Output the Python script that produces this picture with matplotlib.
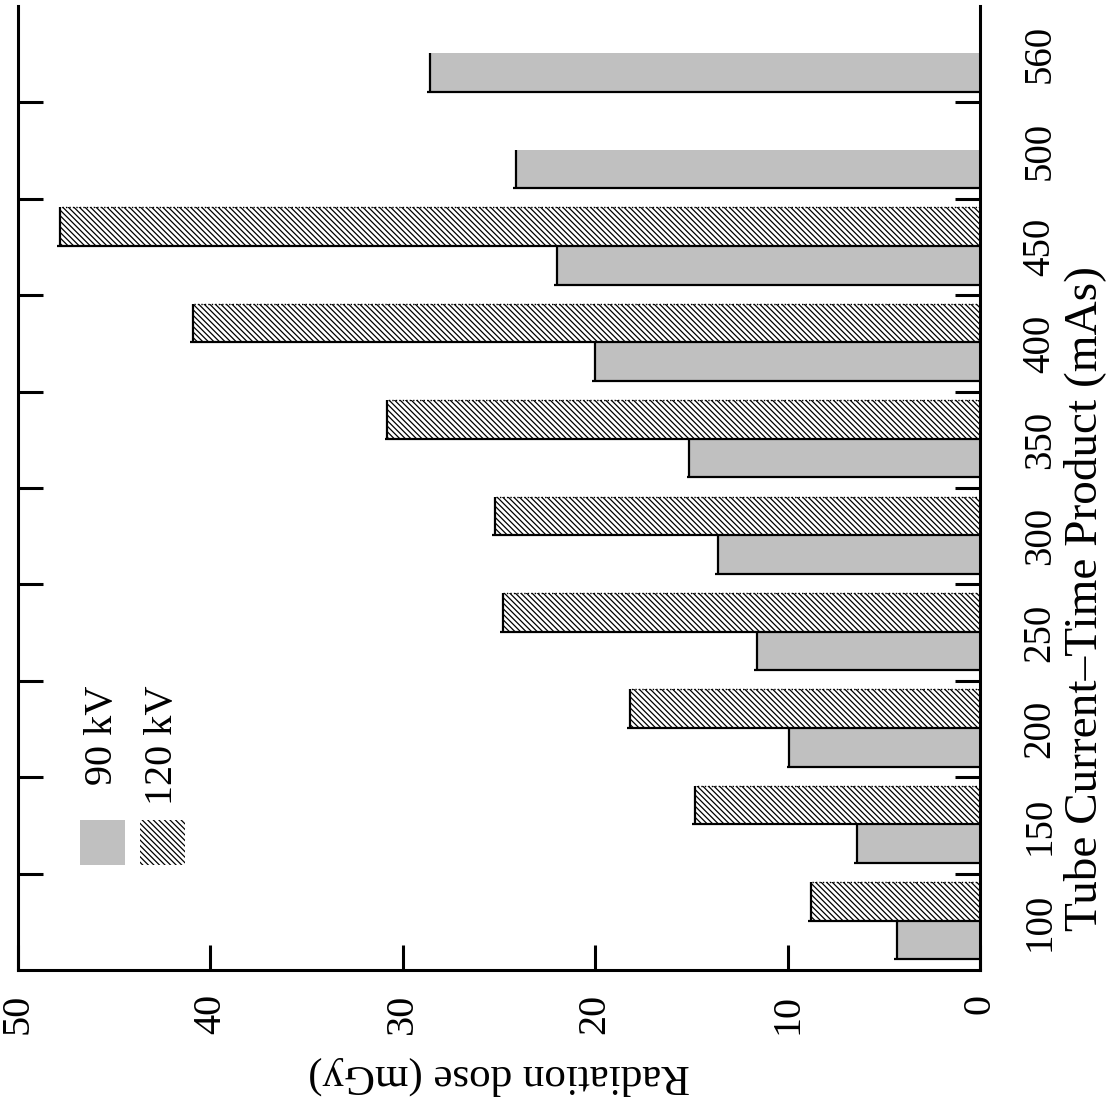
import matplotlib.pyplot as plt
import numpy as np
from matplotlib.patches import Rectangle

plt.rcParams['font.family'] = ['Liberation Serif', 'DejaVu Serif']
plt.rcParams['hatch.linewidth'] = 0.9

# data
mas = ['100', '150', '200', '250', '300', '350', '400', '450', '500', '560']
dose_90kv = [4.3, 6.4, 9.9, 11.6, 13.6, 15.1, 20.0, 22.0, 24.1, 28.6]
dose_120kv = [8.8, 14.8, 18.2, 24.8, 25.2, 30.8, 40.9, 47.8]
x_ticks = [0, 10, 20, 30, 40, 50]

gray = '#c0c0c0'
hatch = '\\' * 6
bw = 0.4

fig = plt.figure(figsize=(11.07, 11.13), dpi=100)
ax = fig.add_axes([0.0163, 0.1285, 0.8689, 0.8661])

pos = np.arange(len(mas)) + 0.5
p90 = pos[:len(dose_90kv)] - 0.19
p120 = pos[:len(dose_120kv)] + 0.21

ax.barh(p90, dose_90kv, height=bw, color=gray, edgecolor='none', zorder=2)
ax.barh(p120, dose_120kv, height=bw, color='white', edgecolor='black',
        linewidth=0, hatch=hatch, zorder=2)

# gnuplot-like outline: solid end + lower side, dotted upper side for hatched
for p, v in zip(p90, dose_90kv):
    ax.vlines(v, p - bw / 2, p + bw / 2, color='black', lw=1.6, zorder=3)
    ax.hlines(p - bw / 2, 0, v + 0.15, color='black', lw=1.6, zorder=3)
for p, v in zip(p120, dose_120kv):
    ax.vlines(v, p - bw / 2, p + bw / 2, color='black', lw=1.6, zorder=3)
    ax.hlines(p - bw / 2, 0, v + 0.15, color='black', lw=1.6, zorder=3)
    ax.hlines(p + bw / 2, 0, v, color='black', lw=1.0, ls=(0, (1, 1.5)), zorder=3)

ax.set_xlim(50, 0)
ax.set_ylim(0, len(mas))

for side in ['left', 'right', 'bottom']:
    ax.spines[side].set_linewidth(2.2)
ax.spines['top'].set_visible(False)

ax.set_yticks(np.arange(1, len(mas)))
ax.set_yticks(pos, minor=True)
ax.set_yticklabels([], minor=False)
ax.set_yticklabels(mas, minor=True, rotation=90, va='center', fontsize=28)
ax.tick_params(axis='y', which='major', left=True, right=True, direction='in',
               length=18, width=2.2, labelleft=False, labelright=False)
ax.tick_params(axis='y', which='minor', left=False, right=False, length=0,
               labelleft=False, labelright=True, pad=30)

ax.set_xticks(x_ticks)
ax.set_xticklabels([str(t) for t in x_ticks], rotation=90, fontsize=29)
ax.tick_params(axis='x', direction='in', length=18, width=2.2, pad=17)

ax.set_xlabel('Radiation dose (mGy)', rotation=180, fontsize=31, labelpad=16)
ax.yaxis.set_label_position('right')
ylab = ax.set_ylabel('Tube Current\u2013Time Product (mAs)', rotation=90,
                     fontsize=34, ha='center', va='baseline')
ylab.set_rotation_mode('anchor')
ax.yaxis.set_label_coords(1.121, 0.385)

# legend, drawn by hand because the text runs vertically
ax.add_patch(Rectangle((0.0645, 0.109), 0.0465, 0.0467, transform=ax.transAxes,
                       facecolor=gray, edgecolor='none'))
ax.add_patch(Rectangle((0.127, 0.109), 0.047, 0.0467, transform=ax.transAxes,
                       facecolor='white', edgecolor='black', linewidth=0,
                       hatch=hatch))
ax.text(0.0873, 0.2956, '90 kV', transform=ax.transAxes, rotation=90,
        ha='center', va='top', fontsize=29)
ax.text(0.1497, 0.2956, '120 kV', transform=ax.transAxes, rotation=90,
        ha='center', va='top', fontsize=29)

fig.savefig('out.png', dpi=100)
